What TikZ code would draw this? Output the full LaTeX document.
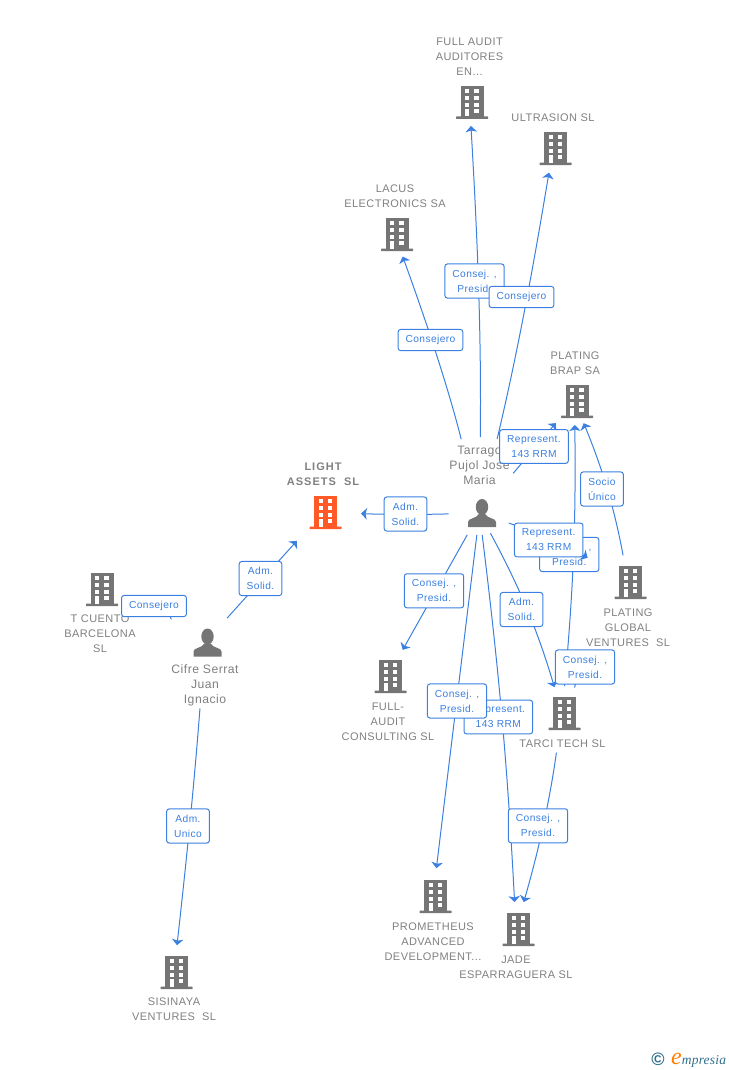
\documentclass[tikz,border=0pt]{standalone}
\usepackage{fontspec}
\setmainfont[LetterSpace=4]{Liberation Sans}
\newfontfamily\logofont[LetterSpace=1.5]{Liberation Serif}
\usetikzlibrary{arrows.meta}
\definecolor{linkblue}{HTML}{3B80E0}
\definecolor{iconGrey}{HTML}{757575}
\definecolor{nameGrey}{HTML}{808080}
\definecolor{mainOrange}{HTML}{FF5A26}
\definecolor{logoTeal}{HTML}{2F6F8C}
\tikzset{
  bldg/.style={inner sep=0pt,minimum width=44pt,minimum height=40pt,path picture={
    \begin{scope}[shift={(path picture bounding box.center)}]
      \fill[#1] (-9,-16) rectangle (14,15);
      \fill[#1,rounded corners=.5pt] (-13.5,14.5) rectangle (18.5,17);
      \foreach \wx in {-4.5,4.8}
        \foreach \wy in {-13,-6,.7,7.3}
          \fill[white] (\wx,\wy) rectangle +(4.4,4);
      \fill[white] (-4.5,7.3) rectangle (-.1,14.5);
    \end{scope}}},
  prsn/.style={inner sep=0pt,minimum width=40pt,minimum height=34pt,path picture={
    \begin{scope}[shift={(path picture bounding box.center)}]
      \fill[iconGrey] (2.5,-6) ellipse (6.2 and 8);
      \fill[iconGrey] (-11.5,14) -- (-11.5,9) .. controls (-11.5,5) and (-3.5,6) .. (-.5,1)
        -- (5.5,1) .. controls (8.5,6) and (16.5,5) .. (16.5,9) -- (16.5,14) -- cycle;
    \end{scope}}},
  nm/.style={text=nameGrey,align=center,inner sep=0pt,font=\fontsize{11}{15}\selectfont},
  pnm/.style={nm,font=\fontsize{12.2}{15}\selectfont},
  lbl/.style={draw=linkblue,fill=white,text=linkblue,align=center,rounded corners=2.5pt,
    line width=1pt,inner xsep=7.5pt,inner ysep=5.8pt,font=\fontsize{10.2}{15}\selectfont},
  link/.style={draw=linkblue,line width=1pt,-{Stealth[length=6pt,width=11.5pt,inset=1.5pt]}}
}
\begin{document}
\begin{tikzpicture}[x=1pt,y=-1pt]
  \useasboundingbox (0,0) rectangle (728,1070);

  \node[bldg=iconGrey] (fa) at (469.5,102) {};
  \node[bldg=iconGrey] (ul) at (553,148) {};
  \node[bldg=iconGrey] (lc) at (394.5,234) {};
  \node[bldg=iconGrey] (pb) at (574.5,401) {};
  \node[bldg=iconGrey] (pg) at (628,582) {};
  \node[bldg=mainOrange] (la) at (323,512) {};
  \node[bldg=iconGrey] (tc) at (99.5,589) {};
  \node[bldg=iconGrey] (fc) at (388,676) {};
  \node[bldg=iconGrey] (tt) at (562,713) {};
  \node[bldg=iconGrey] (pr) at (433,896) {};
  \node[bldg=iconGrey] (ja) at (516,929) {};
  \node[bldg=iconGrey] (si) at (174,972) {};
  \node[prsn] (tg) at (479.5,513) {};
  \node[prsn] (cf) at (205,642.5) {};
  \coordinate (tcA) at (171.3,619.3);
  \coordinate (tcB) at (166,606);
  \coordinate (ttA) at (574.5,687.5);
  \coordinate (ttB) at (578,676);

  \node[nm] (faT) at (469.5,57) {FULL AUDIT\\AUDITORES\\EN...};
  \node[nm] (ulT) at (553,117.5) {ULTRASION SL};
  \node[nm] (lcT) at (395,196) {LACUS\\ELECTRONICS SA};
  \node[nm] (pbT) at (575,363) {PLATING\\BRAP SA};
  \node[nm] (pgT) at (628,627.5) {PLATING\\GLOBAL\\VENTURES\ \ SL};
  \node[nm,font=\fontsize{11}{15}\selectfont\bfseries\addfontfeature{LetterSpace=9}] (laT) at (323,474) {LIGHT\\ASSETS\ \ SL};
  \node[nm] (tcT) at (100,633.5) {T CUENTO\\BARCELONA\\SL};
  \node[nm] (fcT) at (388,721.5) {FULL-\\AUDIT\\CONSULTING SL};
  \node[nm] (ttT) at (562.5,743.5) {TARCI TECH SL};
  \node[nm] (prT) at (433,941.5) {PROMETHEUS\\ADVANCED\\DEVELOPMENT...};
  \node[nm] (jaT) at (516,967) {JADE\\ESPARRAGUERA SL};
  \node[nm] (siT) at (174,1009) {SISINAYA\\VENTURES\ \ SL};
  \node[pnm] (tgT) at (479.5,465) {Tarrago\\Pujol Jose\\Maria};
  \node[pnm] (cfT) at (205,685) {Cifre Serrat\\Juan\\Ignacio};

  \foreach \from/\to/\bnd/\sa/\sb in {tg/lc/-3/76/24,tg/fa/-2/76/24,tg/ul/-2/76/25,tg/pb/0/52/29,
      tt/pb/-3/27/24,pg/pb/-6/27/24,tg/la/2/31/38,cf/la/0/33/39,cf/si/1/66/27,
      tg/fc/0/25/30,tg/pr/0/22/28,tg/ja/2/22/27,tg/tt/6/23/27,tt/ja/4/40/28}
    \draw[link,shorten <=\sa pt,shorten >=\sb pt] (\from.center) to[bend left=\bnd] (\to.center);
  \draw[link] (tcA) -- (tcB);
  \draw[link] (ttA) -- (ttB);

  \node[lbl] (l1) at (569.3,554.5) {Consej. ,\\Presid.};
  \draw[link,shorten <=31pt,shorten >=47pt] (tg.center) to[bend left=6] (pg.center);

  \node[lbl] (l2) at (474.5,281) {Consej. ,\\Presid.};
  \node[lbl] (l3) at (521.5,297) {Consejero};
  \node[lbl] (l4) at (430.5,340) {Consejero};
  \node[lbl] (l5) at (534,446.5) {Represent.\\143 RRM};
  \node[lbl] (l6) at (602,489) {Socio\\Único};
  \node[lbl] (l7) at (405.5,514) {Adm.\\Solid.};
  \node[lbl] (l8) at (548.7,540) {Represent.\\143 RRM};
  \node[lbl] (l9) at (260.5,578.5) {Adm.\\Solid.};
  \node[lbl] (l10) at (154,606) {Consejero};
  \node[lbl] (l11) at (434,590.8) {Consej. ,\\Presid.};
  \node[lbl] (l12) at (521.5,609.5) {Adm.\\Solid.};
  \node[lbl] (l13) at (585,667) {Consej. ,\\Presid.};
  \node[lbl] (l14) at (498.3,717) {Represent.\\143 RRM};
  \node[lbl] (l15) at (457,701) {Consej. ,\\Presid.};
  \node[lbl] (l16) at (538,825.8) {Consej. ,\\Presid.};
  \node[lbl] (l17) at (188,826) {Adm.\\Unico};

  \node[text=logoTeal,inner sep=0pt,font=\fontsize{18}{18}\selectfont\bfseries] (lgC) at (658,1059) {©};
  \node[anchor=base west,inner sep=0pt,font=\logofont\itshape\fontsize{13.5}{14}\selectfont] (lgE) at (671,1064)
    {\textcolor{orange}{\fontsize{24}{24}\selectfont e}\textcolor{logoTeal}{mpresia}};
\end{tikzpicture}
\end{document}
